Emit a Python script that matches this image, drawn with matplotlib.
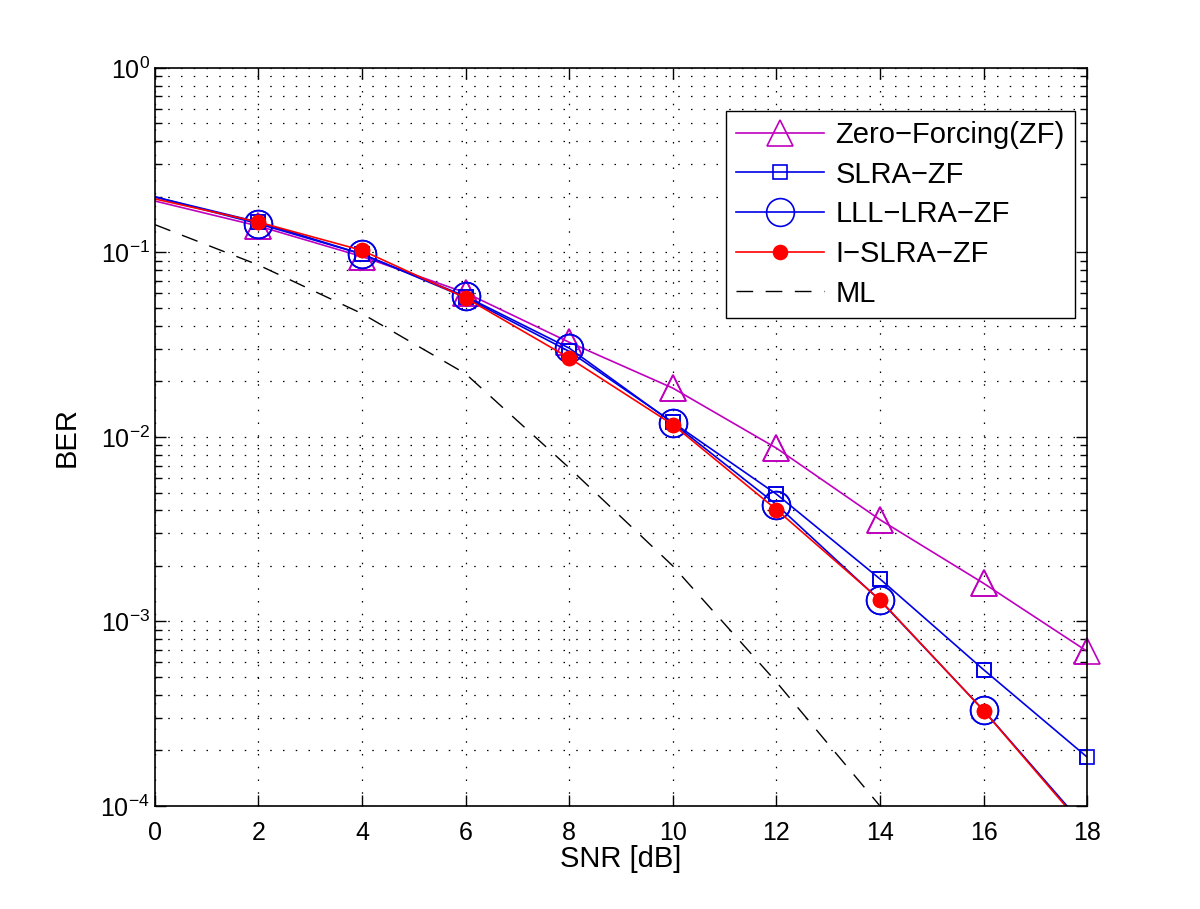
import numpy as np
import matplotlib
matplotlib.use("Agg")
import matplotlib.pyplot as plt
from matplotlib.ticker import LogLocator, NullFormatter

plt.rcParams['font.family'] = ['Liberation Sans', 'DejaVu Sans']
plt.rcParams['mathtext.fontset'] = 'custom'
plt.rcParams['mathtext.rm'] = 'Liberation Sans'

# data
snr = [0, 2, 4, 6, 8, 10, 12, 14, 16, 18]
ber_zf = [0.19, 0.139, 0.095, 0.0605, 0.0326, 0.0184, 0.0087, 0.00356, 0.00161, 0.000689]
ber_slra = [0.20, 0.146, 0.098, 0.057, 0.0291, 0.0120, 0.0049, 0.0017, 0.000548, 0.000184]
ber_lll = [0.20, 0.143, 0.098, 0.0578, 0.0303, 0.0119, 0.0043, 0.0013, 0.00033, 7.5e-5]
ber_islra = [0.195, 0.146, 0.1026, 0.0567, 0.0268, 0.01166, 0.00404, 0.00131, 0.000329, 7.3e-5]
snr_ml = [0, 2, 4, 6, 8, 10, 12, 14, 16]
ber_ml = [0.1415, 0.0855, 0.0466, 0.022, 0.0068, 0.0020, 0.00047, 0.0001, 1.8e-5]

magenta = (0.75, 0.0, 0.75)
blue = (0.0, 0.0, 0.9)

fig = plt.figure(figsize=(12, 9.09), dpi=100)
ax = fig.add_axes([0.129, 0.1133, 0.777, 0.812])

mk = list(range(1, len(snr)))
styles = [
    (ber_zf, magenta, '^', 19, 'none', 'Zero\u2212Forcing(ZF)'),
    (ber_slra, blue, 's', 10, 'none', 'SLRA\u2212ZF'),
    (ber_lll, blue, 'o', 20, 'none', 'LLL\u2212LRA\u2212ZF'),
    (ber_islra, 'red', 'o', 10, 'red', 'I\u2212SLRA\u2212ZF'),
]
for ys, c, m, ms, fc, lab in styles:
    ax.plot(snr, ys, color=c, lw=1.2, marker=m, ms=ms, mfc=fc, mec=c,
            mew=1.2, markevery=mk, label=lab)
    # markers on the frame are not cut off (as in MATLAB)
    xs = [x for x, y in zip(snr[1:], ys[1:]) if y >= 1e-4]
    yv = [y for y in ys[1:] if y >= 1e-4]
    ax.plot(xs, yv, ls='none', marker=m, ms=ms, mfc=fc, mec=c, mew=1.2,
            clip_on=False)

ml, = ax.plot(snr_ml, ber_ml, color='black', lw=1.0, label='ML')
ml.set_dashes((12, 9))

ax.set_yscale('log')
ax.set_xlim(0, 18)
ax.set_ylim(1e-4, 1)
ax.set_xticks(range(0, 19, 2))
ax.yaxis.set_major_locator(LogLocator(base=10, numticks=10))
ax.yaxis.set_minor_locator(LogLocator(base=10, subs=np.arange(2, 10), numticks=20))
ax.yaxis.set_minor_formatter(NullFormatter())

dots = (0, (1.2, 9))
ax.grid(True, which='major', color='black', linestyle=dots, linewidth=0.9)
ax.grid(True, which='minor', axis='y', color='black', linestyle=dots, linewidth=0.9)

ax.tick_params(which='both', direction='in', top=True, right=True, labelsize=18)
ax.tick_params(axis='x', pad=11)
ax.tick_params(which='major', length=8, width=1)
ax.tick_params(which='minor', length=5, width=1)
for s in ax.spines.values():
    s.set_linewidth(1.2)

ax.set_xlabel('SNR [dB]', fontsize=21, labelpad=0)
ax.set_ylabel('BER', fontsize=21, labelpad=14)

leg = ax.legend(loc='upper right', bbox_to_anchor=(0.987, 0.942), fontsize=21,
                fancybox=False, framealpha=1, edgecolor='black',
                handlelength=3.0, labelspacing=0.4, borderpad=0.35,
                handletextpad=0.4, borderaxespad=0)
leg.get_frame().set_linewidth(1.0)

fig.savefig('out.png', dpi=100)
